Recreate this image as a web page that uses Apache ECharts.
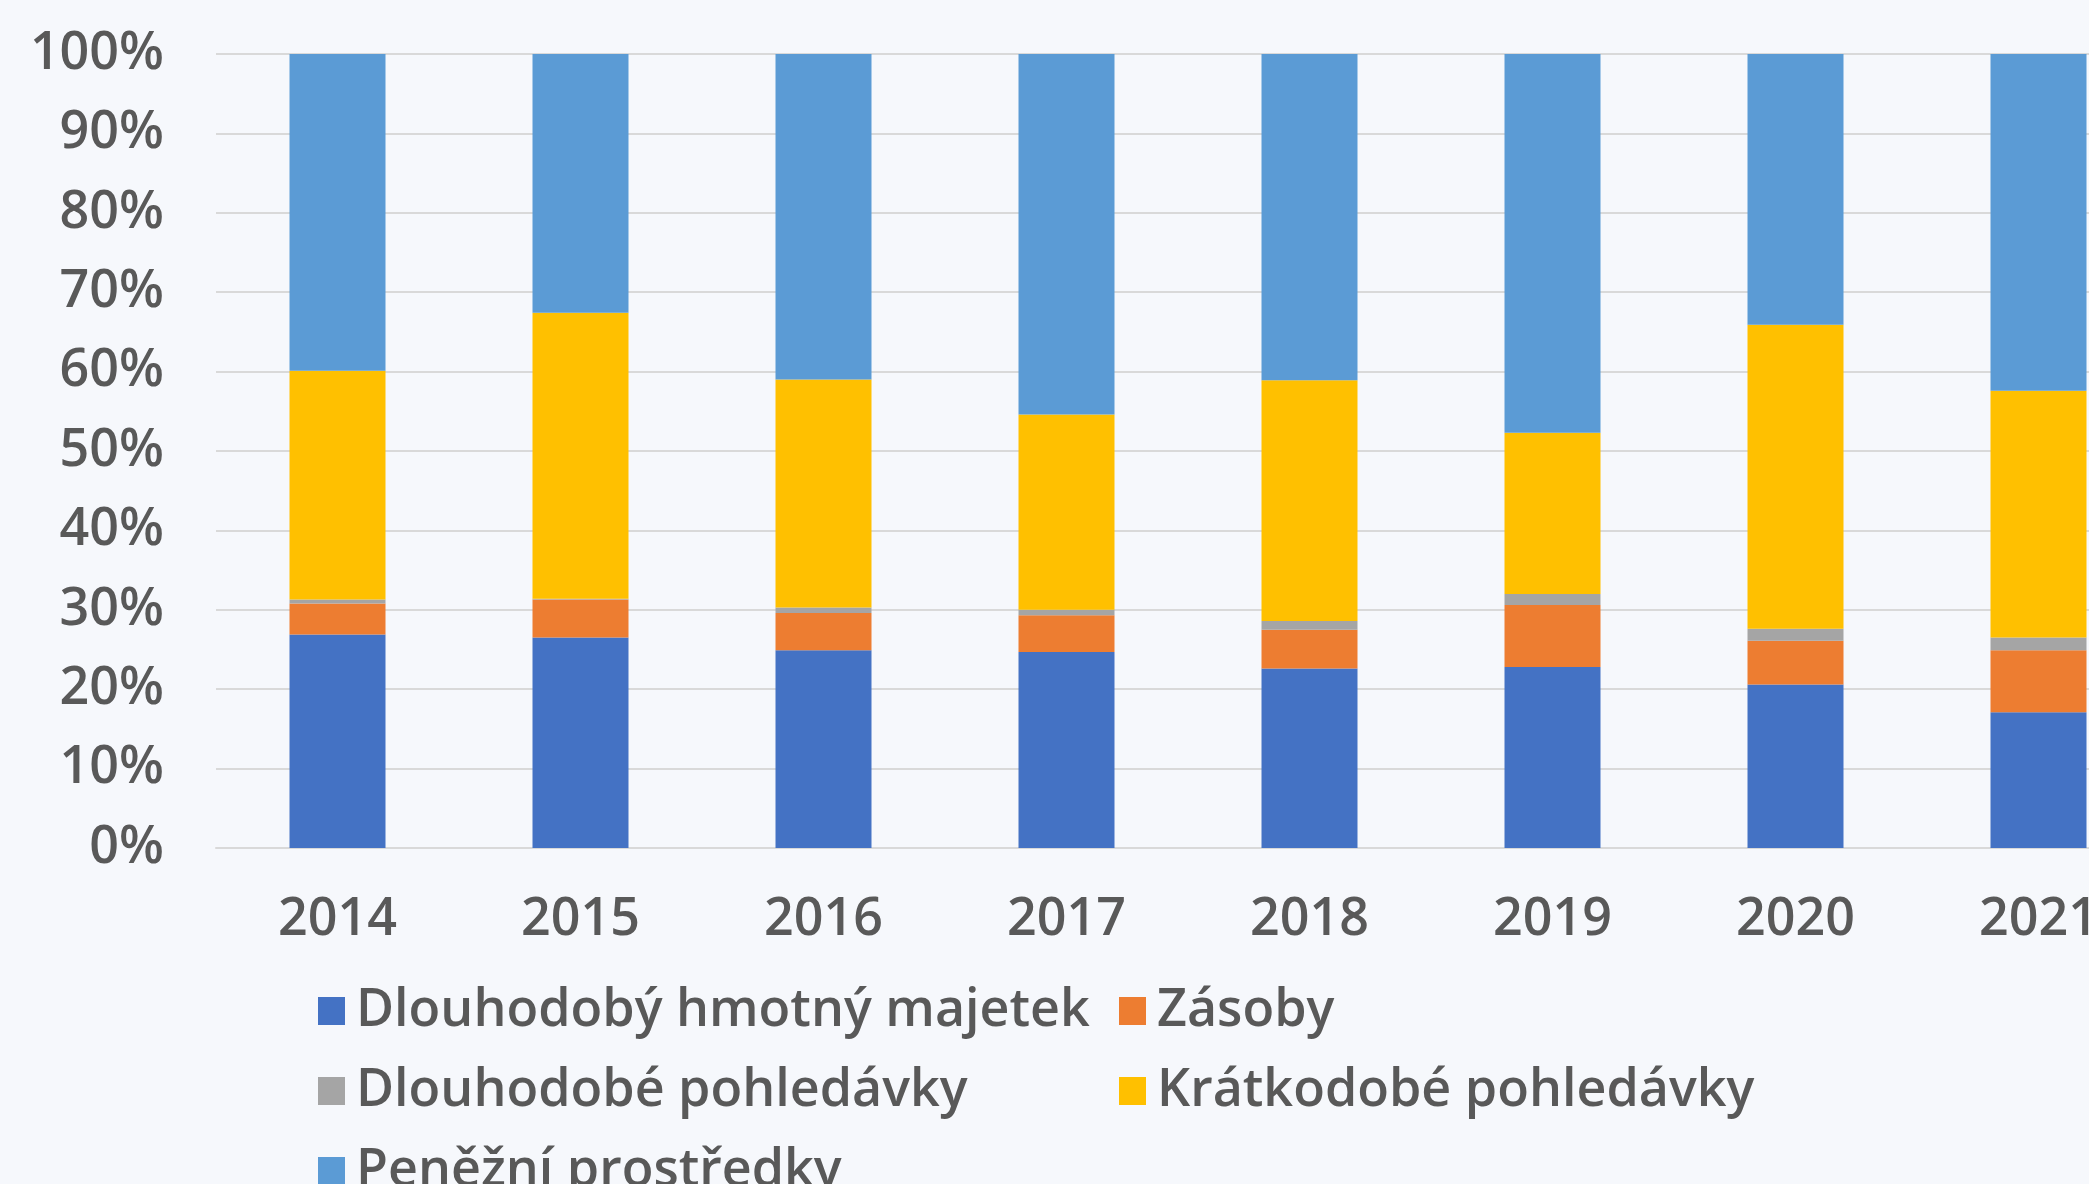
<!DOCTYPE html>
<html lang="cs">
<head>
    <meta charset="UTF-8">
    <title>Struktura aktiv</title>
    <style>
        html, body { margin: 0; padding: 0; overflow: hidden; background: #f6f8fc; }
    </style>
</head>
<body>
<div id="container" style="width: 2200px; height: 1184px;"></div>
<script type="text/javascript" src="https://cdn.jsdelivr.net/npm/echarts@6/dist/echarts.min.js"></script>
<script type="text/javascript">
    var years = ['2014', '2015', '2016', '2017', '2018', '2019', '2020', '2021'];
    var yTicks = ['0%', '10%', '20%', '30%', '40%', '50%', '60%', '70%', '80%', '90%', '100%'];

    // podíly v %
    var hmotnyMajetek = [26.9, 26.5, 24.9, 24.7, 22.6, 22.8, 20.6, 17.1];
    var zasoby = [3.9, 4.8, 4.7, 4.6, 4.9, 7.8, 5.5, 7.8];
    var dlouhodobePohl = [0.5, 0.1, 0.7, 0.7, 1.1, 1.4, 1.5, 1.6];
    var kratkodobePohl = [28.8, 36.0, 28.7, 24.6, 30.3, 20.3, 38.3, 31.1];
    var penezniProstredky = [39.9, 32.6, 41.0, 45.4, 41.1, 47.7, 34.1, 42.4];

    var names = ['Dlouhodobý hmotný majetek', 'Zásoby', 'Dlouhodobé pohledávky', 'Krátkodobé pohledávky', 'Peněžní prostředky'];
    var colors = ['#4472c4', '#ed7d31', '#a5a5a5', '#ffc000', '#5b9bd5'];
    var values = [hmotnyMajetek, zasoby, dlouhodobePohl, kratkodobePohl, penezniProstredky];

    var font = 'Open Sans';
    var textColor = '#595959';
    var fs = 52;

    var legendPos = [[313, 980], [1114, 980], [313, 1060], [1114, 1060], [313, 1140]];
    var legends = names.map(function (n, i) {
        return {
            data: [n],
            left: legendPos[i][0],
            top: legendPos[i][1],
            itemWidth: 27,
            itemHeight: 28,
            icon: 'rect',
            textStyle: {
                fontFamily: font,
                fontSize: fs,
                fontWeight: 600,
                color: textColor,
                padding: [0, 0, 0, 6]
            }
        };
    });

    var series = names.map(function (n, i) {
        return {
            name: n,
            type: 'bar',
            stack: 'total',
            barWidth: 96,
            itemStyle: {color: colors[i]},
            data: values[i]
        };
    });

    var option = {
        backgroundColor: '#f6f8fc',
        animation: false,
        grid: {left: 216, right: 40, top: 54, bottom: 336},
        legend: legends,
        xAxis: {
            type: 'category',
            data: years,
            axisLine: {lineStyle: {color: '#d9d9d9', width: 2}},
            axisTick: {show: false},
            axisLabel: {
                margin: 46,
                fontFamily: font,
                fontSize: fs,
                fontWeight: 600,
                color: textColor
            }
        },
        yAxis: {
            type: 'value',
            min: 0,
            max: 100,
            interval: 10,
            axisLine: {show: false},
            axisTick: {show: false},
            splitLine: {lineStyle: {color: '#d9d9d9', width: 2}},
            axisLabel: {
                margin: 52,
                fontFamily: font,
                fontSize: fs,
                fontWeight: 600,
                color: textColor,
                formatter: function (v) {
                    return yTicks[Math.round(v / 10)];
                }
            }
        },
        series: series
    };

    var myChart = echarts.init(document.getElementById('container'));
    myChart.setOption(option);
</script>
</body>
</html>
